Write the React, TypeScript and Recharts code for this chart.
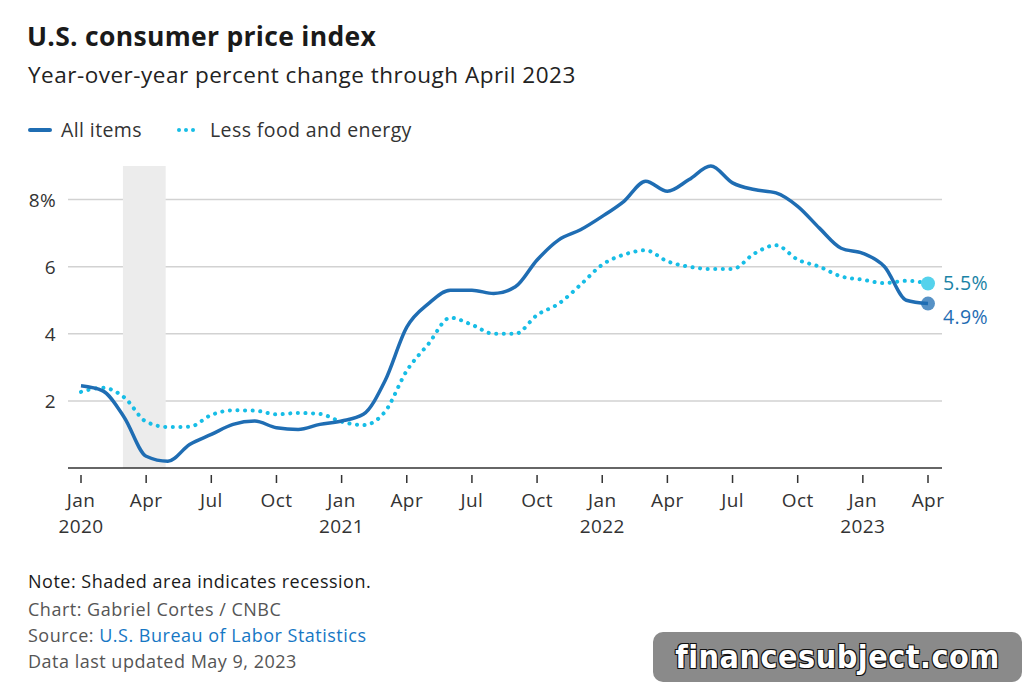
import {
  CartesianGrid,
  Line,
  LineChart,
  ReferenceArea,
  XAxis,
  YAxis,
} from "recharts";

const FONT = "'Open Sans', Lato, sans-serif";

// monthly index 0 = Jan 2020 ... 39 = Apr 2023
const monthNames = ["Jan", "Feb", "Mar", "Apr", "May", "Jun", "Jul", "Aug", "Sep", "Oct", "Nov", "Dec"];
const startYear = 2020;

const allItems = [
  2.45, 2.3, 1.5, 0.35, 0.2, 0.7, 1.0, 1.3, 1.4, 1.2, 1.15, 1.3,
  1.4, 1.6, 2.6, 4.2, 4.9, 5.3, 5.3, 5.2, 5.4, 6.2, 6.8, 7.1,
  7.5, 7.95, 8.55, 8.25, 8.6, 9.0, 8.5, 8.3, 8.2, 7.8, 7.15, 6.55,
  6.4, 6.0, 5.0, 4.9,
];

const lessFoodEnergy = [
  2.27, 2.39, 2.1, 1.38, 1.22, 1.23, 1.58, 1.72, 1.71, 1.6, 1.64, 1.61,
  1.38, 1.28, 1.68, 2.9, 3.7, 4.48, 4.27, 4.0, 4.0, 4.56, 4.9, 5.46,
  6.06, 6.36, 6.49, 6.16, 6.0, 5.93, 5.93, 6.39, 6.64, 6.21, 6.0, 5.71,
  5.61, 5.51, 5.58, 5.5,
];

const xTicks = [0, 3, 6, 9, 12, 15, 18, 21, 24, 27, 30, 33, 36, 39];
const yTicks = [0, 2, 4, 6, 8];
const gridValues = [2, 4, 6, 8];

// recession Mar–Apr 2020
const recessionStart = 1.93;
const recessionEnd = 3.9;

const data = allItems.map((v, i) => ({
  idx: i,
  all: v,
  core: lessFoodEnergy[i],
}));

const BLUE = "#1f6db3";
const CYAN = "#17bde6";

const XTick = ({ x, y, payload }: any) => {
  const i = payload.value as number;
  const m = monthNames[i % 12];
  const yr = startYear + Math.floor(i / 12);
  return (
    <g fontSize={19} letterSpacing={0.4} fill="#333" fontFamily={FONT}>
      <line x1={x} x2={x} y1={y - 1} y2={y + 7} stroke="#333" strokeWidth={1.5} />
      <text x={x} y={y + 31} textAnchor="middle">
        {m}
      </text>
      {m === "Jan" && (
        <text x={x} y={y + 57} textAnchor="middle">
          {yr}
        </text>
      )}
    </g>
  );
};

const YTick = ({ y, payload }: any) => {
  if (payload.value === 0) return <g />;
  return (
    <text x={56} y={y + 7} textAnchor="end" fontSize={19} letterSpacing={0.4} fill="#333" fontFamily={FONT}>
      {payload.value === 8 ? "8%" : payload.value}
    </text>
  );
};

const endDot = (color: string, labelColor: string, dy: number) => (props: any) => {
  const { cx, cy, index, value } = props;
  if (index !== data.length - 1) return <g key={index} />;
  return (
    <g key={index}>
      <circle cx={cx} cy={cy} r={7} fill={color} />
      <text
        x={cx + 15}
        y={cy + dy + 7}
        fontSize={19.5}
        letterSpacing={0.4}
        fill={labelColor}
        fontFamily={FONT}
      >
        {`${value}%`}
      </text>
    </g>
  );
};

export default function App() {
  return (
    <div
      style={{
        position: "absolute",
        left: 0,
        top: 0,
        width: 1024,
        height: 689,
        background: "#fff",
        fontFamily: FONT,
        color: "#222",
        overflow: "hidden",
      }}
    >
      <div style={{ position: "absolute", left: 27, top: 21, fontSize: 26.5, fontWeight: 700, lineHeight: 1.2, letterSpacing: 0.3, color: "#1a1a1a" }}>
        U.S. consumer price index
      </div>
      <div style={{ position: "absolute", left: 28, top: 61, fontSize: 22.5, lineHeight: 1.2, letterSpacing: 0.5 }}>
        Year-over-year percent change through April 2023
      </div>

      <div
        style={{
          position: "absolute",
          left: 28,
          top: 118,
          fontSize: 19.5,
          lineHeight: 1.2,
          letterSpacing: 0.4,
          display: "flex",
          alignItems: "center",
          color: "#333",
        }}
      >
        <span style={{ display: "inline-block", width: 24, height: 4, background: BLUE, borderRadius: 2, marginRight: 9 }} />
        <span>All items</span>
        <span style={{ display: "inline-flex", gap: 3, marginLeft: 35, marginRight: 15 }}>
          {[0, 1, 2].map((k) => (
            <span key={k} style={{ width: 4, height: 4, borderRadius: 2, background: CYAN }} />
          ))}
        </span>
        <span>Less food and energy</span>
      </div>

      <div style={{ position: "absolute", left: 0, top: 0 }}>
        <LineChart
          width={1024}
          height={560}
          data={data}
          margin={{ top: 156, right: 82, bottom: 0, left: 0 }}
        >
          <CartesianGrid
            horizontal
            vertical={false}
            horizontalValues={gridValues}
            stroke="#d2d2d2"
            strokeWidth={1.5}
          />
          <ReferenceArea
            x1={recessionStart}
            x2={recessionEnd}
            y1={0}
            y2={9}
            fill="#ececec"
            fillOpacity={1}
            stroke="none"
            ifOverflow="visible"
          />
          <XAxis
            dataKey="idx"
            type="number"
            domain={[0, 39]}
            ticks={xTicks}
            interval={0}
            padding={{ left: 13, right: 14 }}
            height={92}
            axisLine={{ stroke: "#333", strokeWidth: 1.5 }}
            tickLine={false}
            tick={<XTick />}
          />
          <YAxis
            type="number"
            domain={[0, 9.3]}
            ticks={yTicks}
            width={68}
            axisLine={false}
            tickLine={false}
            tick={<YTick />}
          />
          <Line
            type="monotone"
            dataKey="core"
            stroke={CYAN}
            strokeWidth={4}
            strokeDasharray="0.1 7.5"
            strokeLinecap="round"
            dot={endDot("#55d2ec", "#1a83a6", 0)}
            activeDot={false}
            isAnimationActive={false}
          />
          <Line
            type="monotone"
            dataKey="all"
            stroke={BLUE}
            strokeWidth={3.5}
            dot={endDot("rgba(31,109,179,0.75)", BLUE, 13)}
            activeDot={false}
            isAnimationActive={false}
          />
        </LineChart>
      </div>

      <div style={{ position: "absolute", left: 28, top: 568, fontSize: 18, lineHeight: "26px", letterSpacing: 0.5 }}>
        <div style={{ color: "#1a1a1a", marginBottom: 2 }}>Note: Shaded area indicates recession.</div>
        <div style={{ color: "#555" }}>Chart: Gabriel Cortes / CNBC</div>
        <div style={{ color: "#555" }}>
          Source: <span style={{ color: "#1677c4" }}>U.S. Bureau of Labor Statistics</span>
        </div>
        <div style={{ color: "#555" }}>Data last updated May 9, 2023</div>
      </div>

      <div
        style={{
          position: "absolute",
          left: 653,
          top: 632,
          width: 369,
          height: 50,
          background: "#8a8a8a",
          borderRadius: 10,
          display: "flex",
          alignItems: "center",
          justifyContent: "center",
          color: "#fff",
          fontFamily: "'DejaVu Sans Condensed', 'DejaVu Sans', sans-serif",
          fontWeight: 700,
          fontSize: 32,
          letterSpacing: 0.5,
          textShadow: "-1px -1px 0 #111, 1px -1px 0 #111, -1px 1px 0 #111, 1px 1px 0 #111",
        }}
      >
        financesubject.com
      </div>
    </div>
  );
}
